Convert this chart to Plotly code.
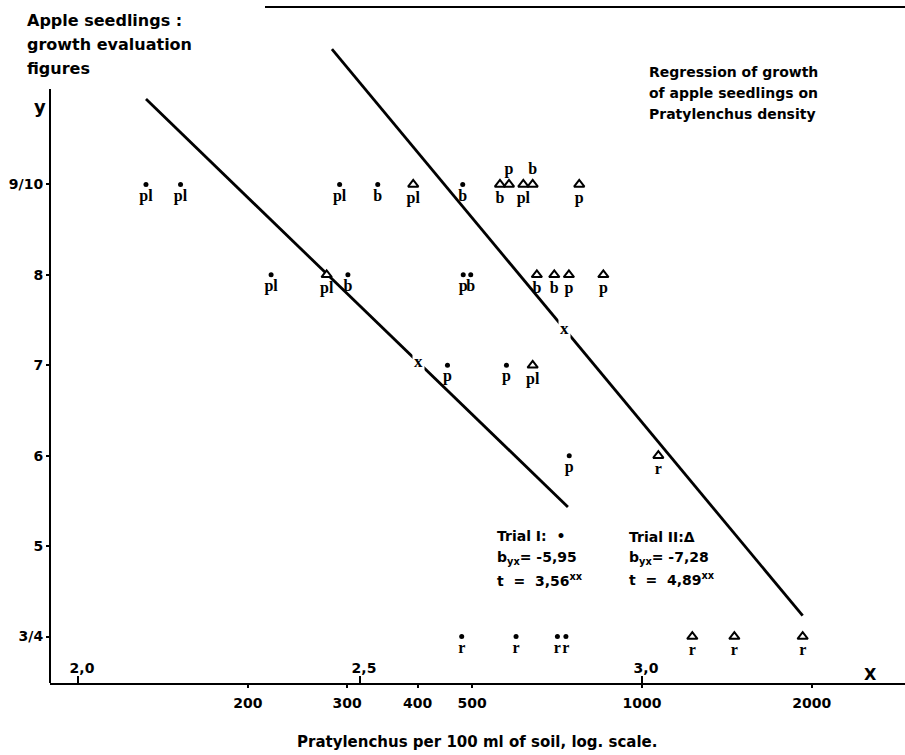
import numpy as np
import plotly.graph_objects as go

# ---------------- data ----------------
# Trial I (dots): Pratylenchus per 100 ml soil, growth figure, root label
t1_x = [132, 152, 291, 340, 481, 220, 301, 482, 497, 452, 575, 743, 479, 598, 708, 733]
t1_y = [9, 9, 9, 9, 9, 8, 8, 8, 8, 7, 7, 6, 4, 4, 4, 4]
t1_lbl = ["pl", "pl", "pl", "b", "b", "pl", "b", "p", "b", "p", "p", "p", "r", "r", "r", "r"]
t1_pos = ["bottom center"] * len(t1_x)

# Trial II (triangles)
t2_x = [393, 560, 581, 616, 640, 774, 276, 651, 699, 742, 854, 640, 1069, 1228, 1458, 1927]
t2_y = [9, 9, 9, 9, 9, 9, 8, 8, 8, 8, 8, 7, 6, 4, 4, 4]
t2_lbl = ["pl", "b", "p", "pl", "b", "p", "pl", "b", "b", "p", "p", "pl", "r", "r", "r", "r"]
t2_pos = ["bottom center", "bottom center", "top center", "bottom center", "top center",
          "bottom center", "bottom center", "bottom center", "bottom center", "bottom center",
          "bottom center", "bottom center", "bottom center", "bottom center", "bottom center",
          "bottom center"]

# regression lines (end points) and mean points
reg1_x = [132, 739]
reg1_y = [9.944, 5.433]
reg2_x = [282, 1927]
reg2_y = [10.497, 4.23]
mean_x = [401, 730]
mean_y = [7.04, 7.41]

# axes
y_tickvals = [4, 5, 6, 7, 8, 9]
y_ticktext = ["3/4", "5", "6", "7", "8", "9/10"]
x_tickvals = [200, 300, 400, 500, 1000, 2000]
x_ticktext = ["200", "300", "400", "500", "1000", "2000"]
log_tickvals = [2.0, 2.5, 3.0]
log_ticktext = ["2,0", "2,5", "3,0"]
x_range_log = [1.9504, 3.4663]
y_range = [3.486, 11.04]
y_axis_top = 10.056

stats1 = ["Trial I:  \u2022", "b<sub>yx</sub>= -5,95", "t  =  3,56<sup>xx</sup>"]
stats2 = ["Trial II:\u0394", "b<sub>yx</sub>= -7,28", "t  =  4,89<sup>xx</sup>"]
ytitle = ["Apple seedlings :", "growth evaluation", "figures"]
rtitle = ["Regression of growth", "of apple seedlings on", "Pratylenchus density"]
xtitle = "Pratylenchus per 100 ml of soil, log. scale."

# ---------------- figure ----------------
W, H = 905, 755
ML, MR, MT, MB = 50, 0, 0, 72
PW, PH = W - ML - MR, H - MT - MB
SANS = "DejaVu Sans"
SERIF = "Liberation Serif"


def pxx(p):
    return (p - ML) / PW


def pyy(p):
    return 1 - (p - MT) / PH


fig = go.Figure()

fig.add_trace(go.Scatter(x=reg1_x, y=reg1_y, mode="lines",
                         line=dict(color="black", width=2.8), hoverinfo="skip"))
fig.add_trace(go.Scatter(x=reg2_x, y=reg2_y, mode="lines",
                         line=dict(color="black", width=2.8), hoverinfo="skip"))

fig.add_trace(go.Scatter(
    x=t1_x, y=t1_y, mode="markers+text", text=t1_lbl, textposition=t1_pos,
    marker=dict(symbol="circle", size=5, color="black"),
    textfont=dict(family=SERIF, size=16, color="black", weight="bold"),
    name="Trial I"))
fig.add_trace(go.Scatter(
    x=t2_x, y=t2_y, mode="markers+text", text=t2_lbl, textposition=t2_pos,
    marker=dict(symbol="triangle-up", size=9, color="white",
                line=dict(color="black", width=2)),
    textfont=dict(family=SERIF, size=16, color="black", weight="bold"),
    name="Trial II"))

# helper trace for secondary (log-value) axis
fig.add_trace(go.Scatter(x=[log_tickvals[0]], y=[y_tickvals[0]], xaxis="x2",
                         mode="markers", marker=dict(opacity=0), hoverinfo="skip"))

ann = []
for mx, my in zip(mean_x, mean_y):
    ann.append(dict(x=np.log10(mx), y=my, xref="x", yref="y", text="x", showarrow=False,
                    font=dict(family=SERIF, size=17, color="black", weight="bold"),
                    bgcolor="white", borderpad=1))

for i, t in enumerate(ytitle):
    ann.append(dict(x=pxx(25), y=pyy(20 + 24 * i), xref="paper", yref="paper", text=t,
                    xanchor="left", yanchor="middle", showarrow=False,
                    font=dict(family=SANS, size=16, color="black", weight="bold")))
ann.append(dict(x=pxx(40), y=pyy(107), xref="paper", yref="paper", text="y",
                xanchor="center", yanchor="middle", showarrow=False,
                font=dict(family=SANS, size=18, color="black", weight="bold")))
for i, t in enumerate(rtitle):
    ann.append(dict(x=pxx(647), y=pyy(72 + 21 * i), xref="paper", yref="paper", text=t,
                    xanchor="left", yanchor="middle", showarrow=False,
                    font=dict(family=SANS, size=14, color="black", weight="bold")))
for i, t in enumerate(stats1):
    ann.append(dict(x=pxx(495), y=pyy(536 + 22 * i), xref="paper", yref="paper", text=t,
                    xanchor="left", yanchor="middle", showarrow=False,
                    font=dict(family=SANS, size=14, color="black", weight="bold")))
for i, t in enumerate(stats2):
    ann.append(dict(x=pxx(627), y=pyy(537 + 21 * i), xref="paper", yref="paper", text=t,
                    xanchor="left", yanchor="middle", showarrow=False,
                    font=dict(family=SANS, size=14, color="black", weight="bold")))
ann.append(dict(x=pxx(870), y=pyy(674), xref="paper", yref="paper", text="X",
                xanchor="center", yanchor="middle", showarrow=False,
                font=dict(family=SANS, size=16, color="black", weight="bold")))
ann.append(dict(x=pxx(477), y=pyy(742), xref="paper", yref="paper", text=xtitle,
                xanchor="center", yanchor="middle", showarrow=False,
                font=dict(family=SANS, size=15, color="black", weight="bold")))

shapes = [
    dict(type="line", xref="paper", yref="y", x0=0, x1=0, y0=y_range[0], y1=y_axis_top,
         line=dict(color="black", width=2)),
    dict(type="line", xref="paper", yref="paper", x0=pxx(265), x1=1.0, y0=pyy(7), y1=pyy(7),
         line=dict(color="black", width=2)),
]

fig.update_layout(
    width=W, height=H, autosize=False,
    margin=dict(l=ML, r=MR, t=MT, b=MB, pad=0, autoexpand=False),
    paper_bgcolor="white", plot_bgcolor="white",
    showlegend=False,
    annotations=ann, shapes=shapes,
    xaxis=dict(type="log", range=x_range_log, tickvals=x_tickvals, ticktext=x_ticktext,
               automargin=False,
               showgrid=False, zeroline=False, showline=True, linecolor="black", linewidth=2,
               ticks="outside", ticklen=3, tickwidth=2, tickcolor="black",
               ticklabelstandoff=3,
               tickfont=dict(family=SANS, size=14, color="black", weight="bold")),
    xaxis2=dict(overlaying="x", anchor="y", side="bottom", range=x_range_log,
                automargin=False,
                tickvals=log_tickvals, ticktext=log_ticktext, showgrid=False,
                zeroline=False, showline=False, ticks="inside", ticklen=7, tickwidth=1.5,
                tickcolor="black", ticklabelposition="inside", ticklabelshift=4,
                tickfont=dict(family=SANS, size=14, color="black", weight="bold")),
    yaxis=dict(range=y_range, tickvals=y_tickvals, ticktext=y_ticktext, showgrid=False,
               automargin=False,
               zeroline=False, showline=False, ticks="outside", ticklen=3, tickwidth=2,
               tickcolor="black",
               tickfont=dict(family=SANS, size=14, color="black", weight="bold")),
)

fig.write_html("out.html",
               config={"displayModeBar": False},
               post_script="document.body.style.margin='0';"
                           "document.body.style.overflow='hidden';")
